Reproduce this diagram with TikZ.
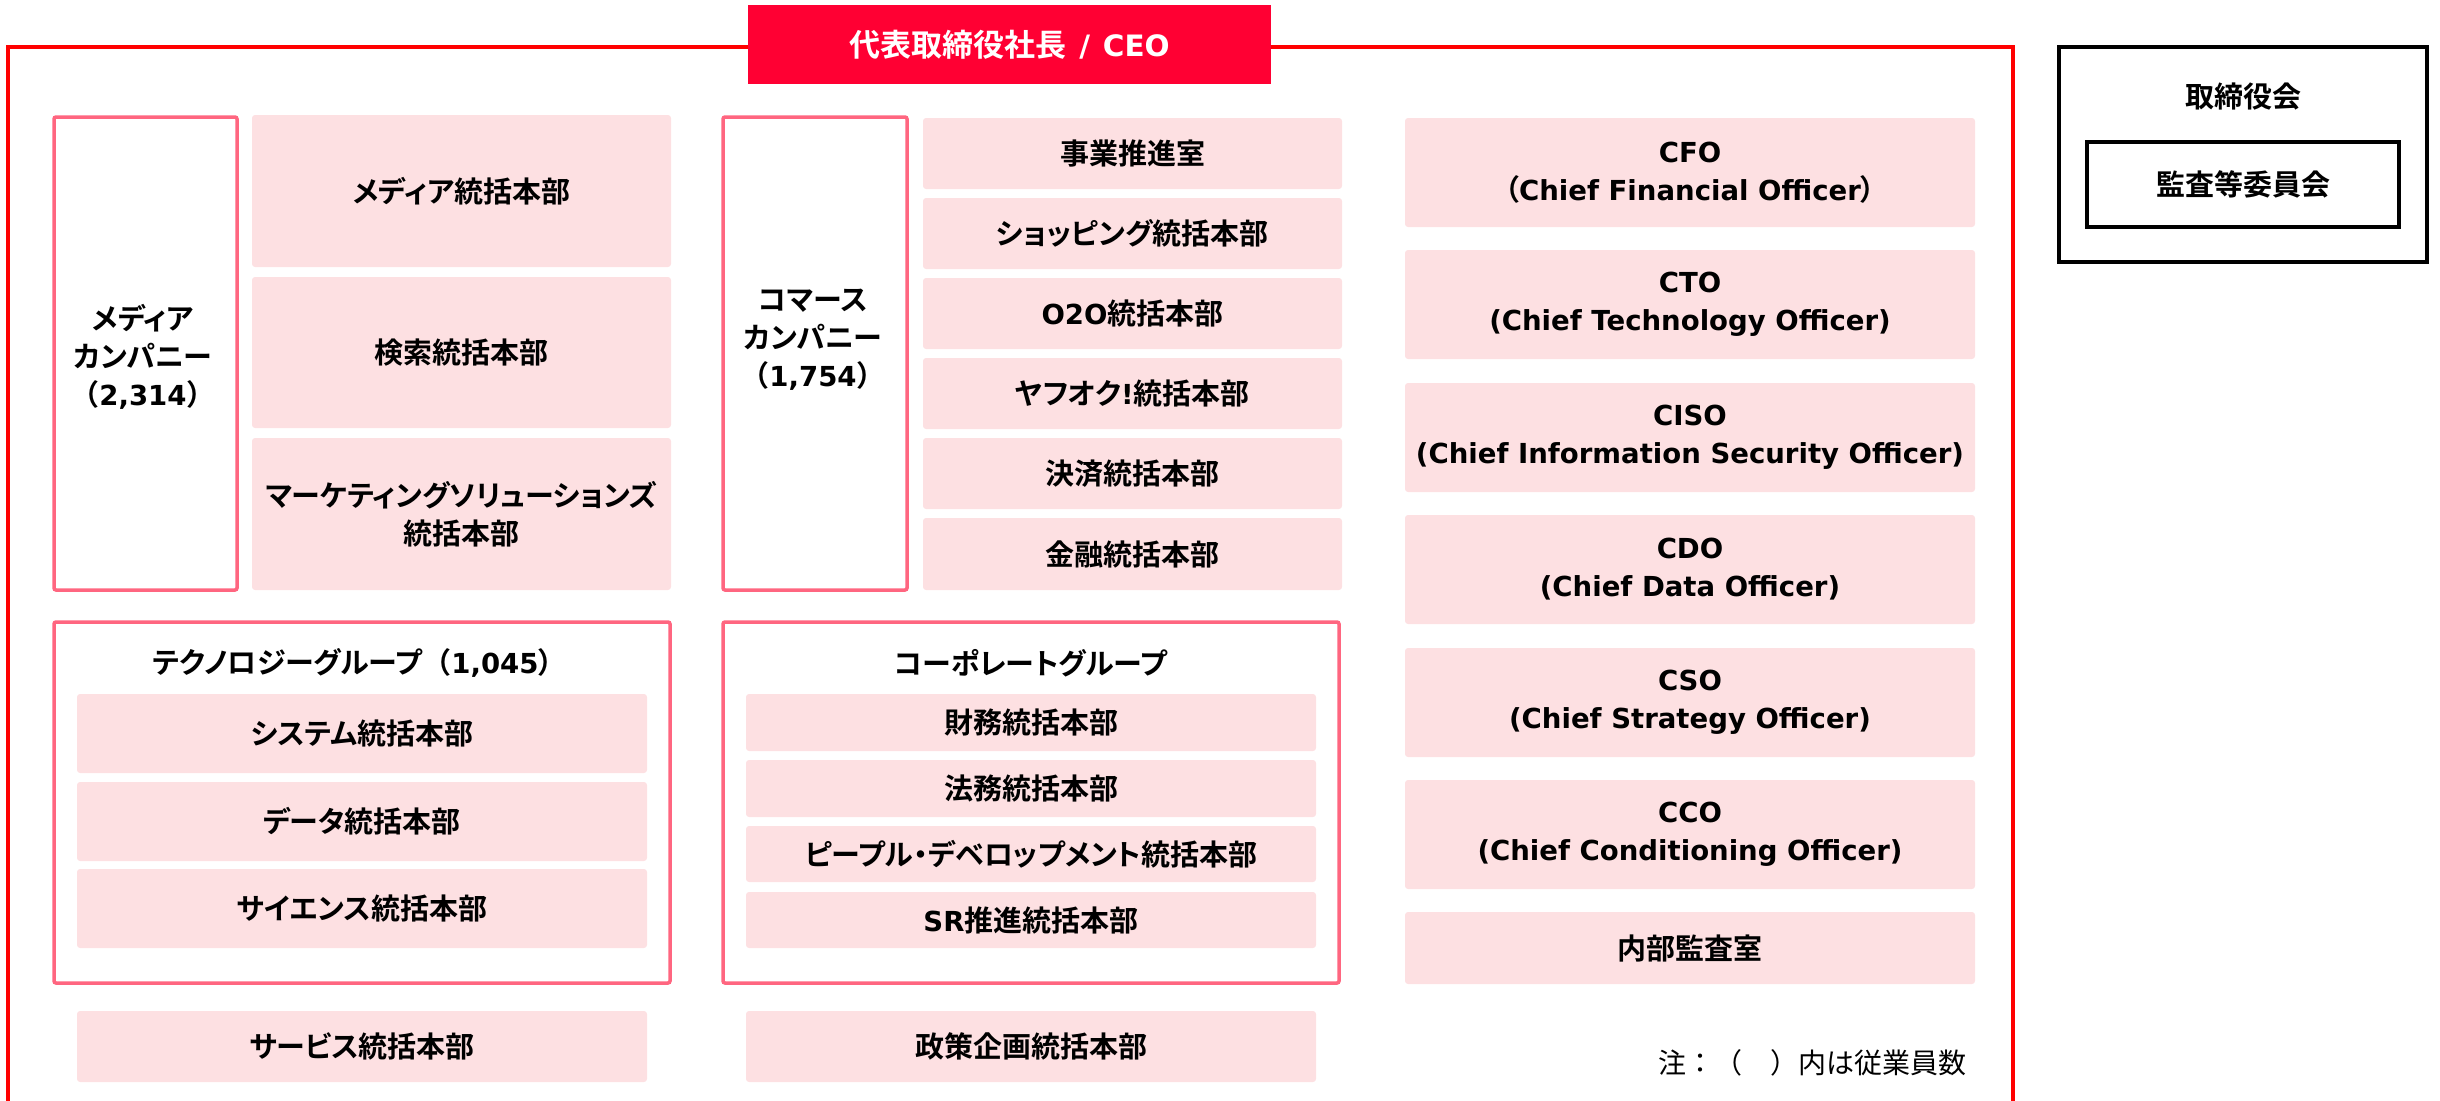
\documentclass[tikz,border=0pt]{standalone}
\usepackage{fontspec}
\newfontfamily\jp{Noto Sans CJK JP}[BoldFont={Noto Sans CJK JP Bold}, RawFeature=+palt]
\newfontfamily\jpn{Noto Sans CJK JP}[BoldFont={Noto Sans CJK JP Bold}]
\newfontfamily\lt{DejaVu Sans}[Scale=0.95]
\newcommand\lat[1]{{\lt #1}}
\newcommand\fw[1]{{\jpn #1}}
\definecolor{unitpink}{RGB}{253,224,226}
\definecolor{grppink}{RGB}{255,102,128}
\definecolor{framered}{RGB}{255,0,0}
\definecolor{ceored}{RGB}{255,0,51}
\tikzset{
  unitbox/.style={fill=unitpink, rounded corners=3pt},
  grpbox/.style={draw=grppink, line width=3.5pt, rounded corners=2pt},
  ceobox/.style={fill=ceored, text=white, font=\jp\bfseries\fontsize{31}{38}\selectfont},
  boardbox/.style={draw=black, line width=4.5pt},
  frameline/.style={draw=framered, line width=4pt},
  notetext/.style={font=\jpn\mdseries\fontsize{28}{36}\selectfont}
}
% name, x1, y1, x2, y2, style, text
\newcommand\bx[7]{\node[#6, anchor=north west, minimum width={#4-#2}, minimum height={#5-#3}] (#1) at (#2,#3) {#7};}
\begin{document}
\begin{tikzpicture}[x=1pt, y=-1pt,
  every node/.style={font=\jp\bfseries\fontsize{29}{38}\selectfont, align=center, inner sep=0pt, outer sep=0pt}]
\useasboundingbox (0,0) rectangle (2440,1100);

% CEO and outer frame
\bx{ceo}{748}{5}{1271}{84}{ceobox}{代表取締役社長\hspace{13pt}\lat{/}\hspace{13pt}\lat{CEO}}
\coordinate (frTL) at (8,47);
\coordinate (frBL) at (8,1104);
\coordinate (frTR) at (2013,47);
\coordinate (frBR) at (2013,1104);
\draw[frameline] (ceo.west |- frTL) -- (frTL) -- (frBL);
\draw[frameline] (ceo.east |- frTR) -- (frTR) -- (frBR);

% Media company
\bx{media}{54}{117}{237}{590}{grpbox}{}
\node (medialbl) at (143,357) {メディア\\カンパニー\\\fw{（}\lat{2,314}\fw{）}};
\bx{m1}{252}{115}{671}{267}{unitbox}{メディア統括本部}
\bx{m2}{252}{277}{671}{428}{unitbox}{検索統括本部}
\bx{m3}{252}{438}{671}{590}{unitbox}{マーケティングソリューションズ\\統括本部}

% Commerce company
\bx{commerce}{723}{117}{907}{590}{grpbox}{}
\node (commercelbl) at (813,340) {コマース\\カンパニー\\\fw{（}\lat{1,754}\fw{）}};
\bx{c1}{923}{118}{1342}{189}{unitbox}{事業推進室}
\bx{c2}{923}{198}{1342}{269}{unitbox}{ショッピング統括本部}
\bx{c3}{923}{278}{1342}{349}{unitbox}{\lat{O2O}統括本部}
\bx{c4}{923}{358}{1342}{429}{unitbox}{ヤフオク\lat{!}統括本部}
\bx{c5}{923}{438}{1342}{509}{unitbox}{決済統括本部}
\bx{c6}{923}{518}{1342}{590}{unitbox}{金融統括本部}

% Chief officers
\bx{cfo}{1405}{118}{1975}{227}{unitbox}{\lat{CFO}\\（\lat{Chief Financial Officer}）}
\bx{cto}{1405}{250}{1975}{359}{unitbox}{\lat{CTO}\\\lat{(Chief Technology Officer)}}
\bx{ciso}{1405}{383}{1975}{492}{unitbox}{\lat{CISO}\\\lat{(Chief Information Security Officer)}}
\bx{cdo}{1405}{515}{1975}{624}{unitbox}{\lat{CDO}\\\lat{(Chief Data Officer)}}
\bx{cso}{1405}{648}{1975}{757}{unitbox}{\lat{CSO}\\\lat{(Chief Strategy Officer)}}
\bx{cco}{1405}{780}{1975}{889}{unitbox}{\lat{CCO}\\\lat{(Chief Conditioning Officer)}}
\bx{audit}{1405}{912}{1975}{984}{unitbox}{内部監査室}

% Technology group
\bx{tech}{54}{622}{670}{983}{grpbox}{}
\node (techlbl) at (353,663) {テクノロジーグループ\fw{（}\lat{1,045}）};
\bx{t1}{77}{694}{647}{773}{unitbox}{システム統括本部}
\bx{t2}{77}{782}{647}{861}{unitbox}{データ統括本部}
\bx{t3}{77}{869}{647}{948}{unitbox}{サイエンス統括本部}
\bx{service}{77}{1011}{647}{1082}{unitbox}{サービス統括本部}

% Corporate group
\bx{corp}{723}{622}{1339}{983}{grpbox}{}
\node (corplbl) at (1031,663) {コーポレートグループ};
\bx{k1}{746}{694}{1316}{751}{unitbox}{財務統括本部}
\bx{k2}{746}{760}{1316}{817}{unitbox}{法務統括本部}
\bx{k3}{746}{826}{1316}{882}{unitbox}{ピープル・デベロップメント統括本部}
\bx{k4}{746}{892}{1316}{948}{unitbox}{\lat{SR}推進統括本部}
\bx{policy}{746}{1011}{1316}{1082}{unitbox}{政策企画統括本部}

% Note
\node[notetext, anchor=east] (note) at (1966,1063) {注：（　）内は従業員数};

% Board of directors
\bx{board}{2059}{47}{2427}{262}{boardbox}{}
\node (boardlbl) at (2243,97) {取締役会};
\bx{auditcom}{2087}{142}{2399}{227}{boardbox}{監査等委員会}
\end{tikzpicture}
\end{document}
